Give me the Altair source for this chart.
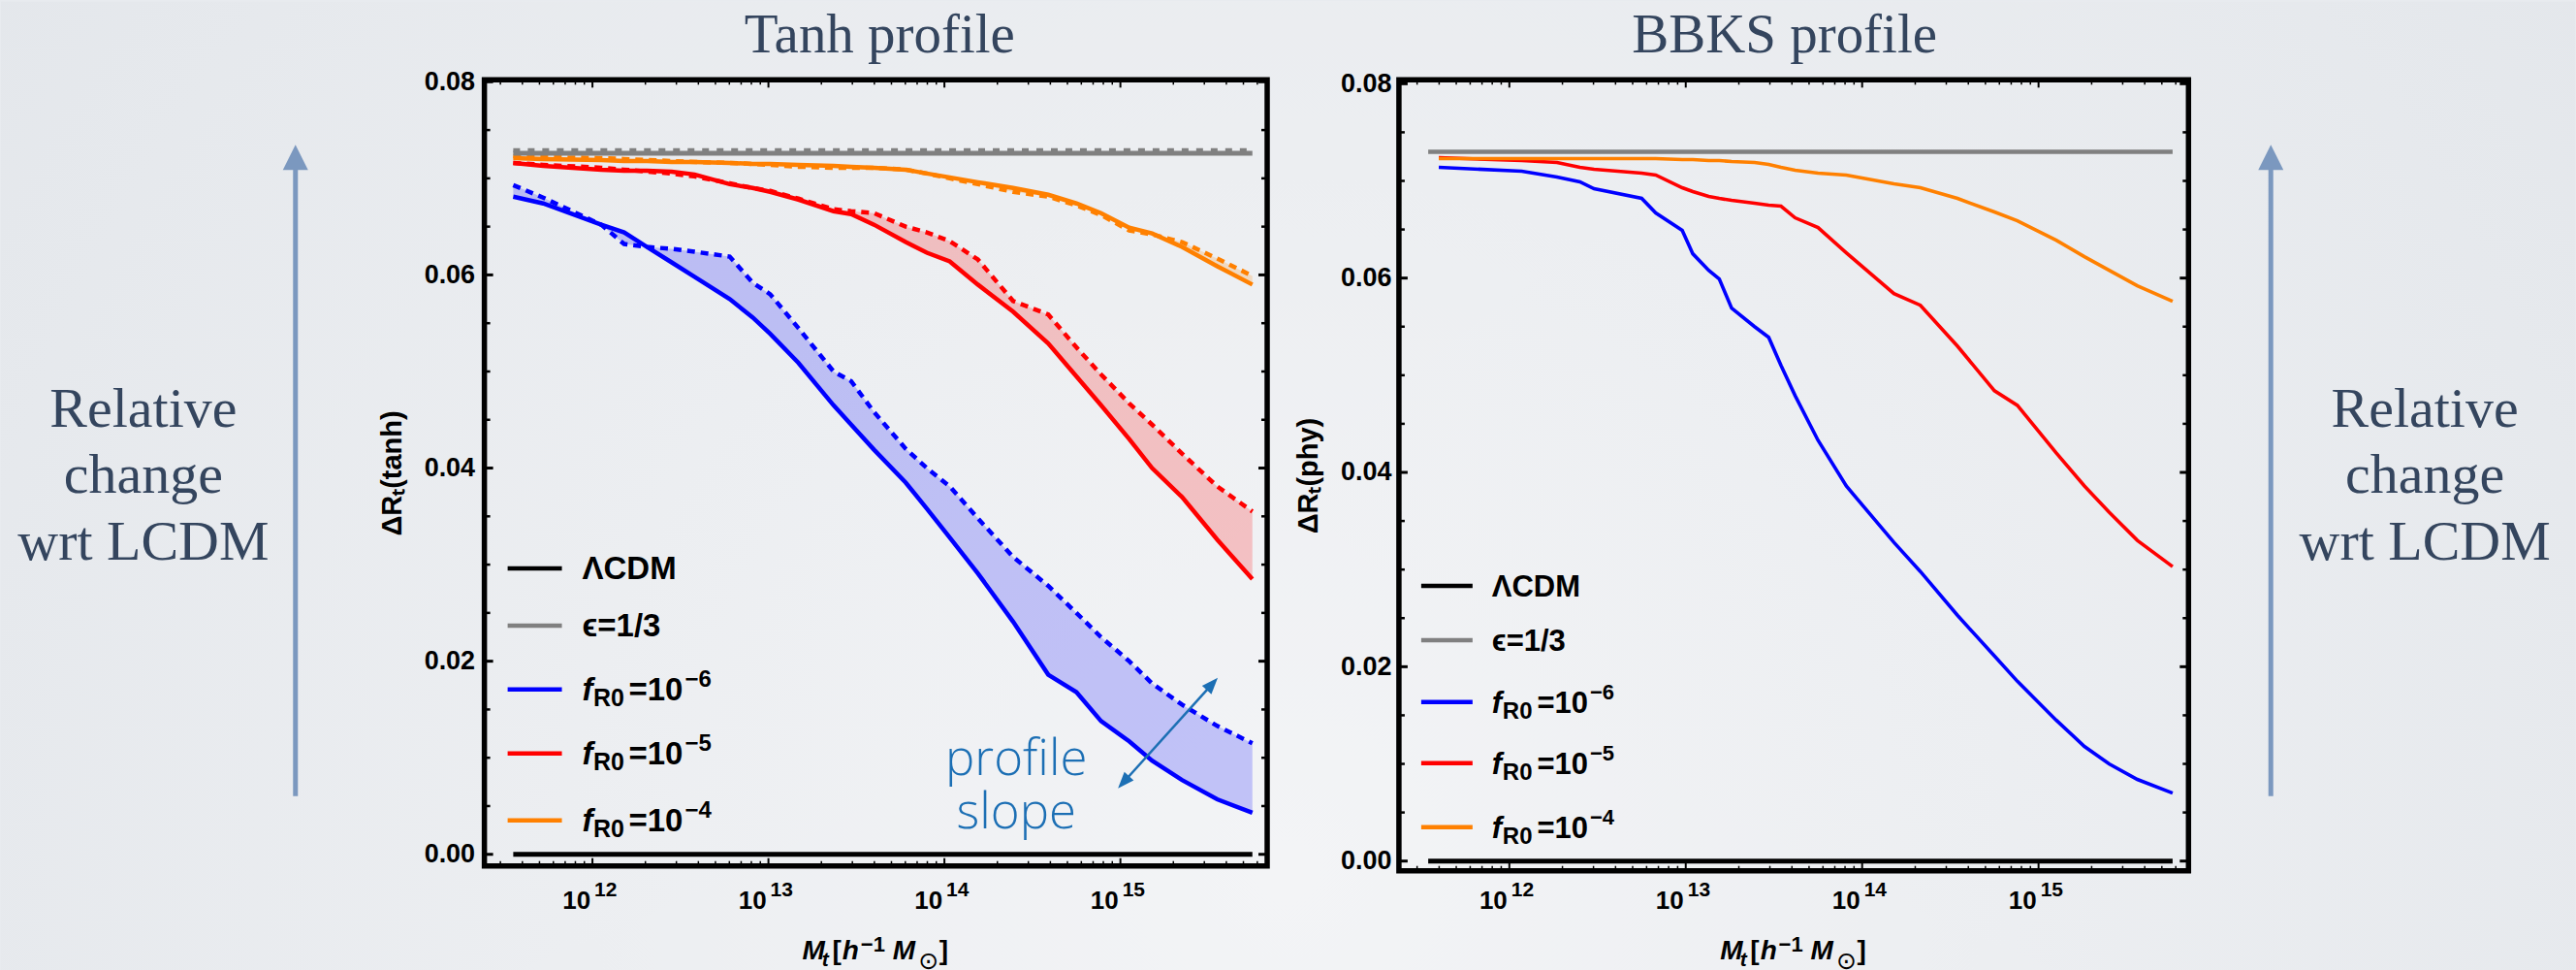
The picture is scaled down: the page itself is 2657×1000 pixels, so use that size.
import altair as alt
import pandas as pd

# ---------------- Tanh profile (left panel) ----------------
X_TANH = [11.55, 11.72, 12.05, 12.18, 12.31, 12.45, 12.58, 12.78, 12.91, 13.01,
          13.17, 13.37, 13.47, 13.60, 13.78, 13.90, 14.03, 14.19, 14.39, 14.59,
          14.75, 14.89, 15.05, 15.18, 15.35, 15.55, 15.75]
TANH_BLUE = [0.0681, 0.0674, 0.0652, 0.0644, 0.0629, 0.0613, 0.0598, 0.0575, 0.0556, 0.0539,
             0.0509, 0.0465, 0.0445, 0.0419, 0.0385, 0.0358, 0.0328, 0.0291, 0.0241, 0.0186,
             0.0168, 0.0138, 0.0117, 0.0097, 0.0077, 0.0057, 0.0043]
TANH_BLUE_DOT = [0.0693, 0.0680, 0.0652, 0.0632, 0.0629, 0.0627, 0.0624, 0.0619, 0.0592, 0.0580,
                 0.0545, 0.0500, 0.0490, 0.0458, 0.0420, 0.0400, 0.0381, 0.0348, 0.0308, 0.0278,
                 0.0250, 0.0225, 0.0200, 0.0177, 0.0155, 0.0133, 0.0115]
TANH_RED = [0.0716, 0.0713, 0.0709, 0.0708, 0.0708, 0.0707, 0.0704, 0.0694, 0.0690, 0.0686,
            0.0678, 0.0666, 0.0663, 0.0652, 0.0634, 0.0623, 0.0614, 0.0590, 0.0562, 0.0529,
            0.0495, 0.0465, 0.0430, 0.0400, 0.0370, 0.0326, 0.0285]
TANH_RED_DOT = [0.0716, 0.0714, 0.0711, 0.0709, 0.0707, 0.0705, 0.0702, 0.0695, 0.0690, 0.0687,
                0.0679, 0.0668, 0.0666, 0.0664, 0.0650, 0.0644, 0.0635, 0.0616, 0.0573, 0.0559,
                0.0525, 0.0497, 0.0467, 0.0445, 0.0415, 0.0381, 0.0355]
TANH_ORANGE = [0.0721, 0.0720, 0.0719, 0.0718, 0.0718, 0.0717, 0.0717, 0.0716, 0.0715, 0.0715,
               0.0714, 0.0713, 0.0712, 0.0711, 0.0709, 0.0705, 0.0701, 0.0696, 0.0690, 0.0683,
               0.0674, 0.0664, 0.0649, 0.0643, 0.0629, 0.0609, 0.0590]
TANH_ORANGE_DOT = [0.0723, 0.0722, 0.0721, 0.0720, 0.0719, 0.0718, 0.0717, 0.0716, 0.0715, 0.0714,
                   0.0712, 0.0711, 0.0711, 0.0711, 0.0709, 0.0705, 0.0700, 0.0694, 0.0686, 0.0681,
                   0.0672, 0.0662, 0.0646, 0.0642, 0.0634, 0.0617, 0.0599]
TANH_FLAT_X = [11.55, 15.75]
TANH_EPS = [0.0726, 0.0726]
TANH_EPS_DOT = [0.0729, 0.0729]
TANH_LCDM = [0.0, 0.0]

# ---------------- BBKS profile (right panel) ----------------
X_BBKS = [11.60, 12.07, 12.27, 12.40, 12.48, 12.75, 12.83, 12.98, 13.04, 13.13,
          13.19, 13.26, 13.39, 13.47, 13.54, 13.62, 13.75, 13.91, 14.18, 14.33,
          14.54, 14.75, 14.88, 15.10, 15.26, 15.40, 15.56, 15.76]
BBKS_BLUE = [0.0714, 0.0710, 0.0704, 0.0699, 0.0692, 0.0682, 0.0667, 0.0649, 0.0625, 0.0608,
             0.0599, 0.0569, 0.0550, 0.0539, 0.0510, 0.0479, 0.0433, 0.0386, 0.0328, 0.0298,
             0.0253, 0.0211, 0.0185, 0.0145, 0.0118, 0.0100, 0.0084, 0.0070]
BBKS_RED = [0.0724, 0.0721, 0.0719, 0.0714, 0.0712, 0.0708, 0.0706, 0.0693, 0.0689, 0.0684,
            0.0682, 0.0680, 0.0677, 0.0675, 0.0674, 0.0662, 0.0652, 0.0626, 0.0584, 0.0572,
            0.0530, 0.0484, 0.0469, 0.0420, 0.0386, 0.0359, 0.0330, 0.0303]
BBKS_ORANGE = [0.0723, 0.0723, 0.0723, 0.0723, 0.0723, 0.0723, 0.0723, 0.0722, 0.0722, 0.0721,
               0.0721, 0.0720, 0.0719, 0.0717, 0.0714, 0.0711, 0.0708, 0.0706, 0.0697, 0.0693,
               0.0682, 0.0668, 0.0659, 0.0639, 0.0622, 0.0608, 0.0592, 0.0576]
BBKS_FLAT_X = [11.54, 15.76]
BBKS_EPS = [0.0730, 0.0730]
BBKS_LCDM = [0.0, 0.0]

# ---------------- axes ----------------
Y_LABELS = [0.0, 0.02, 0.04, 0.06, 0.08]
Y_MINOR = [0.005, 0.01, 0.015, 0.025, 0.03, 0.035, 0.045, 0.05, 0.055, 0.065, 0.07, 0.075]
X_MAJOR = [12, 13, 14, 15]
X_EXP = ["12", "13", "14", "15"]
X_MINOR = [11.477, 11.602, 11.699, 11.778, 11.845, 11.903, 11.954,
           12.301, 12.477, 12.602, 12.699, 12.778, 12.845, 12.903, 12.954,
           13.301, 13.477, 13.602, 13.699, 13.778, 13.845, 13.903, 13.954,
           14.301, 14.477, 14.602, 14.699, 14.778, 14.845, 14.903, 14.954,
           15.301, 15.477, 15.602, 15.699, 15.778]

SANS = "Liberation Sans, Arial, Helvetica, sans-serif"
SERIF = "Liberation Serif, Times New Roman, serif"
HUM = "Open Sans, Lato, sans-serif"
SLATE = "#34455e"
ARROWC = "#7b98bf"
ANNOT = "#1c6fb4"
BLUE, RED, ORANGE, GRAY = "#0000ff", "#ff0000", "#ff8000", "#808080"

LW, LH = 808, 811
RW, RH = 815, 816
GAP = 136


def one():
    return alt.Data(values=[{"k": 0}])


def T(x, y, s, size, font=SANS, weight="bold", style="normal", color="black",
      align="left", baseline="alphabetic", angle=0, **extra):
    return alt.Chart(one()).mark_text(
        text=s, fontSize=size, font=font, fontWeight=weight, fontStyle=style,
        color=color, align=align, baseline=baseline, angle=angle, **extra
    ).encode(x=alt.value(x), y=alt.value(y))


def legend(ys, x0, x1, tx, fs, dR0, deq):
    out = []
    for yv, c in zip(ys, ["black", GRAY, BLUE, RED, ORANGE]):
        out.append(alt.Chart(one()).mark_rule(color=c, strokeWidth=4.5).encode(
            x=alt.value(x0), x2=alt.value(x1), y=alt.value(yv)))
    b = [yv + 11 for yv in ys]
    out.append(T(tx, b[0], "ΛCDM", fs))
    out.append(T(tx, b[1], "ϵ=1/3", fs))
    sub = round(fs * 0.76)
    sup = round(fs * 0.72)
    for k, e in zip([2, 3, 4], ["−6", "−5", "−4"]):
        out.append(T(tx, b[k], "f", fs, style="italic"))
        out.append(T(tx + dR0, b[k] + 6.5, "R0", sub))
        out.append(T(tx + deq, b[k], "=10", fs))
        out.append(T(tx + deq + 1.696 * fs + 2, b[k] - 13.4, e, sup))
    return out


def xtitle(cx, base):
    pieces = [("M", -75.8, 0, 28, "italic"), ("t", -55.5, 7, 21, "italic"),
              ("[", -44.8, 0, 28, "normal"), ("h", -34.5, 0, 28, "italic"),
              ("−1", -15.5, -8, 22, "normal"), ("M", 17.5, 0, 28, "italic"),
              ("]", 65.5, 0, 28, "normal")]
    out = [T(cx + dx, base + dy, s, fs, style=st) for s, dx, dy, fs, st in pieces]
    out.append(T(cx + 54.5, base + 2, "⊙", 25, font="DejaVu Sans, sans-serif",
                 weight="normal", align="center", baseline="middle"))
    return out


def panel(W, H, xdom, ydom, df, fills, lines, flats, ytitle, label_pad, title, title_dx,
          leg, extra_front, extra_back):
    xs = alt.Scale(domain=xdom, nice=False, zero=False)
    ys = alt.Scale(domain=ydom, nice=False, zero=False)
    yax = alt.Axis(values=Y_LABELS, format=".2f", labelFont=SANS, labelFontSize=27,
                   labelFontWeight="bold", labelColor="black", labelPadding=label_pad,
                   ticks=False, domain=False, grid=False, labelFlush=False,
                   title=ytitle, titleFont=SANS, titleFontSize=29, titleFontWeight="bold",
                   titleColor="black", titlePadding=18, zindex=5)

    def X(f):
        return alt.X(f + ":Q", scale=xs, axis=None)

    def Y(f):
        return alt.Y(f + ":Q", scale=ys, axis=yax)

    layers = list(extra_back)
    for lo, hi, c in fills:
        layers.append(alt.Chart(df).mark_area(color=c, opacity=0.2).encode(
            x=X("x"), y=Y(lo), y2=alt.Y2(hi)))
    for col, c, w, dash in lines:
        kw = dict(color=c, strokeWidth=w)
        if dash:
            kw["strokeDash"] = dash
        layers.append(alt.Chart(df).mark_line(**kw).encode(x=X("x"), y=Y(col)))
    for fdf, c, w, dash in flats:
        kw = dict(color=c, strokeWidth=w)
        if dash:
            kw["strokeDash"] = dash
        layers.append(alt.Chart(fdf).mark_line(**kw).encode(x=X("x"), y=Y("y")))

    # inward frame ticks
    ymaj = pd.DataFrame({"v": Y_LABELS})
    ymin = pd.DataFrame({"v": Y_MINOR})
    xmaj = pd.DataFrame({"v": X_MAJOR, "b": ["10"] * 4, "e": X_EXP})
    xmin = pd.DataFrame({"v": [v for v in X_MINOR if xdom[0] < v < xdom[1]]})
    for d, ln, sw in [(ymaj, 9, 3), (ymin, 6, 2.5)]:
        layers.append(alt.Chart(d).mark_rule(color="black", strokeWidth=sw).encode(
            y=Y("v"), x=alt.value(0), x2=alt.value(ln)))
        layers.append(alt.Chart(d).mark_rule(color="black", strokeWidth=sw).encode(
            y=Y("v"), x=alt.value(W), x2=alt.value(W - ln)))
    for d, ln, sw in [(xmaj, 8, 2), (xmin, 5, 1.5)]:
        layers.append(alt.Chart(d).mark_rule(color="black", strokeWidth=sw).encode(
            x=X("v"), y=alt.value(H), y2=alt.value(H - ln)))
        layers.append(alt.Chart(d).mark_rule(color="black", strokeWidth=sw).encode(
            x=X("v"), y=alt.value(0), y2=alt.value(ln)))
    # x tick labels 10^n
    layers.append(alt.Chart(xmaj).mark_text(font=SANS, fontSize=26, fontWeight="bold",
                                            color="black", align="right", dx=-2).encode(
        x=X("v"), y=alt.value(847), text="b:N"))
    layers.append(alt.Chart(xmaj).mark_text(font=SANS, fontSize=21, fontWeight="bold",
                                            color="black", align="left", dx=2).encode(
        x=X("v"), y=alt.value(836), text="e:N"))
    # frame
    layers.append(alt.Chart(one()).mark_rect(fillOpacity=0, stroke="black", strokeWidth=5.5).encode(
        x=alt.value(0), x2=alt.value(W), y=alt.value(0), y2=alt.value(H)))
    # titles
    layers.append(T(W / 2 + title_dx, -28, title, 57, font=SERIF, weight="normal",
                    color=SLATE, align="center"))
    layers += xtitle(W / 2, 907)
    layers += leg
    layers += extra_front
    return alt.layer(*layers).properties(width=W, height=H)


def side(cx, ax):
    out = [T(cx, 358, "Relative", 58, font=SERIF, weight="normal", color=SLATE, align="center"),
           T(cx, 426, "change", 58, font=SERIF, weight="normal", color=SLATE, align="center"),
           T(cx, 495, "wrt LCDM", 58, font=SERIF, weight="normal", color=SLATE, align="center")]
    out.append(alt.Chart(one()).mark_rule(color=ARROWC, strokeWidth=5).encode(
        x=alt.value(ax), y=alt.value(739), y2=alt.value(90)))
    out.append(alt.Chart(one()).mark_point(shape="M0,-1 L1,1 L-1,1 Z", size=676, filled=True,
                                           color=ARROWC, opacity=1).encode(
        x=alt.value(ax), y=alt.value(80)))
    return out


tanh = pd.DataFrame({"x": X_TANH, "bs": TANH_BLUE, "bd": TANH_BLUE_DOT, "rs": TANH_RED,
                     "rd": TANH_RED_DOT, "os": TANH_ORANGE, "od": TANH_ORANGE_DOT})
bbks = pd.DataFrame({"x": X_BBKS, "bs": BBKS_BLUE, "rs": BBKS_RED, "os": BBKS_ORANGE})
t_eps = pd.DataFrame({"x": TANH_FLAT_X, "y": TANH_EPS})
t_eps_d = pd.DataFrame({"x": TANH_FLAT_X, "y": TANH_EPS_DOT})
t_lcdm = pd.DataFrame({"x": TANH_FLAT_X, "y": TANH_LCDM})
b_eps = pd.DataFrame({"x": BBKS_FLAT_X, "y": BBKS_EPS})
b_lcdm = pd.DataFrame({"x": BBKS_FLAT_X, "y": BBKS_LCDM})

bg = alt.Chart(one()).mark_rect(
    fill={"gradient": "radial", "x1": 0.5, "y1": 0.65, "r1": 0, "x2": 0.5, "y2": 0.65, "r2": 0.8,
          "stops": [{"offset": 0, "color": "#f3f4f6"}, {"offset": 1, "color": "#dfe3e8"}]}
).encode(x=alt.value(-499), x2=alt.value(2158), y=alt.value(-81), y2=alt.value(919))

annot = [
    T(549, 717, ["profile", "slope"], 51, font=HUM, weight=300, color=ANNOT, align="center",
      lineHeight=55),
    alt.Chart(one()).mark_rule(color=ANNOT, strokeWidth=2.5).encode(
        x=alt.value(659.7), y=alt.value(724.7), x2=alt.value(751.3), y2=alt.value(623.3)),
    alt.Chart(one()).mark_point(shape="M0,-1 L0.76,1 L-0.76,1 Z", size=289, filled=True,
                                color=ANNOT, opacity=1, angle=42.1).encode(
        x=alt.value(751.3), y=alt.value(623.3)),
    alt.Chart(one()).mark_point(shape="M0,-1 L0.76,1 L-0.76,1 Z", size=289, filled=True,
                                color=ANNOT, opacity=1, angle=222.1).encode(
        x=alt.value(659.7), y=alt.value(724.7)),
]

left = panel(
    LW, LH, [11.386, 15.834], [-0.0012, 0.0802], tanh,
    fills=[("os", "od", ORANGE), ("rs", "rd", RED), ("bs", "bd", BLUE)],
    lines=[("bs", BLUE, 4.5, None), ("bd", BLUE, 4.5, [8, 6]),
           ("rs", RED, 4.5, None), ("rd", RED, 4.5, [8, 6]),
           ("os", ORANGE, 4.5, None), ("od", ORANGE, 4.5, [8, 6])],
    flats=[(t_eps, GRAY, 5, None), (t_eps_d, GRAY, 4.5, [7, 8]), (t_lcdm, "black", 5, None)],
    ytitle="ΔRₜ(tanh)", label_pad=10, title="Tanh profile", title_dx=4,
    leg=legend([504, 563, 629, 695, 764], 24, 80, 101, 33, 11.5, 48),
    extra_front=annot + side(-352, -195), extra_back=[bg])

right = panel(
    RW, RH, [11.374, 15.85], [-0.0010, 0.0804], bbks,
    fills=[],
    lines=[("bs", BLUE, 3.6, None), ("rs", RED, 3.6, None), ("os", ORANGE, 3.6, None)],
    flats=[(b_eps, GRAY, 4.5, None), (b_lcdm, "black", 5, None)],
    ytitle="ΔRₜ(phy)", label_pad=8, title="BBKS profile", title_dx=-9.5,
    leg=legend([522, 578, 642, 705, 771], 23, 76, 96, 31, 11, 46.7),
    extra_front=side(1059, 900), extra_back=[])

chart = alt.hconcat(left, right, spacing=GAP, bounds="flush", padding=0).configure_view(
    strokeWidth=0).configure(background="#e8ebef")

chart.save("out.html", embed_options={"renderer": "svg", "actions": False})
